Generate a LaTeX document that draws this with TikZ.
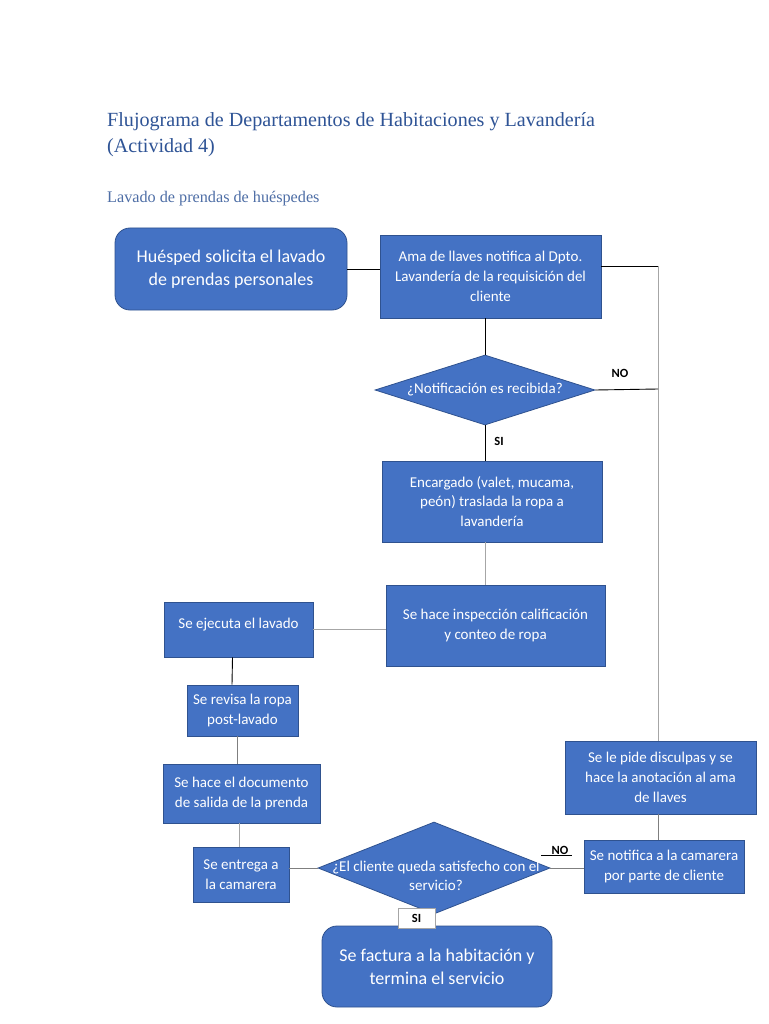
\documentclass[tikz,border=0pt]{standalone}
\usepackage{fontspec}
\setmainfont{Carlito}
\newfontfamily\titlefont{Liberation Serif}
\usetikzlibrary{shapes.geometric,calc}
\definecolor{boxfill}{HTML}{4472C4}
\definecolor{boxline}{HTML}{2F528F}
\definecolor{titleblue}{HTML}{2F5496}
\definecolor{lgray}{HTML}{A6A6A6}
\definecolor{mgray}{HTML}{7F7F7F}
\tikzset{
  box/.style={draw=boxline, fill=boxfill, text=white, align=center, inner sep=2pt, line width=0.8pt},
  rbox/.style={box, rounded corners=15pt},
  dia/.style={diamond, aspect=2.5, draw=boxline, fill=boxfill, text=white, align=center, inner sep=0pt, line width=0.8pt},
  conn/.style={draw=black, line width=0.9pt},
  gconn/.style={draw=lgray, line width=1pt},
  mconn/.style={draw=mgray, line width=1pt},
  lbl/.style={font=\fontsize{12.5}{14}\selectfont\bfseries, text=black, inner sep=1pt},
  f13/.style={font=\fontsize{15}{19.8}\selectfont},
  f16/.style={font=\fontsize{18}{23}\selectfont},
}
\begin{document}
\begin{tikzpicture}[x=1pt,y=-1pt]
\useasboundingbox (0,0) rectangle (768,1024);
\fill[white] (0,0) rectangle (768,1024);

% titles
\node[anchor=base west, inner sep=0pt, text=titleblue, font=\titlefont\fontsize{20.1}{26}\selectfont] (t1) at (107,127) {Flujograma de Departamentos de Habitaciones y Lavandería};
\node[anchor=base west, inner sep=0pt, text=titleblue, font=\titlefont\fontsize{20.1}{26}\selectfont] (t2) at (107,153) {(Actividad 4)};
\node[anchor=base west, inner sep=0pt, text=titleblue!85!white, font=\titlefont\fontsize{16.2}{20}\selectfont] (t3) at (107,203) {Lavado de prendas de huéspedes};

% nodes
\node[rbox, f16, minimum width=232pt, minimum height=82pt] (hue) at (231,269) {Huésped solicita el lavado\\de prendas personales};
\node[box, f13, minimum width=221pt, minimum height=83pt] (ama) at (490.5,276.5) {Ama de llaves notifica al Dpto.\\Lavandería de la requisición del\\cliente};
\node[dia, aspect=3.1, f13, minimum width=220pt, minimum height=70pt] (d1) at (485,390) {¿Notificación es recibida?};
\node[box, f13, minimum width=220pt, minimum height=81pt] (enc) at (492,501.5) {Encargado (valet, mucama,\\peón) traslada la ropa a\\lavandería};
\node[box, f13, minimum width=219pt, minimum height=81pt] (ins) at (495.5,625.5) {Se hace inspección calificación\\y conteo de ropa};
\node[box, f13, minimum width=149pt, minimum height=55pt, text depth=12pt] (eje) at (238.5,629.5) {Se ejecuta el lavado};
\node[box, f13, minimum width=111pt, minimum height=51pt] (rev) at (242.5,710.5) {Se revisa la ropa\\post-lavado};
\node[box, f13, minimum width=157pt, minimum height=59pt] (doc) at (241.5,793.5) {Se hace el documento\\de salida de la prenda};
\node[box, f13, minimum width=96pt, minimum height=55pt] (ent) at (241,874.5) {Se entrega a\\la camarera};
\node[dia, f13, minimum width=232pt, minimum height=92pt] (d2) at (434,868) {};
\node[text=white, align=center, font=\fontsize{15}{19}\selectfont, inner sep=0pt] (d2t) at (436,876) {¿El cliente queda satisfecho con el\\servicio?};
\node[rbox, f16, minimum width=230pt, minimum height=81pt] (fac) at (437,966.5) {Se factura a la habitación y\\termina el servicio};
\node[box, f13, minimum width=160pt, minimum height=53pt] (not) at (664,866.5) {Se notifica a la camarera\\por parte de cliente};
\node[box, f13, minimum width=191pt, minimum height=73pt] (dis) at (660.5,777.5) {Se le pide disculpas y se\\hace la anotación al ama\\de llaves};

% helper coordinates
\coordinate (r1) at (658,266);
\coordinate (r2) at (658,389);

% connectors
\draw[conn] (hue.east) -- (hue.east -| ama.west);
\draw[conn] (ama.east |- r1) -- (r1);
\draw[gconn] (r1) -- (dis.north -| r1);
\draw[conn] (d1.north |- ama.south) -- (d1.north);
\draw[conn] (d1.east) -- (r2);
\draw[conn] (d1.south) -- (d1.south |- enc.north);
\draw[gconn] (enc.south -| d1.south) -- (ins.north -| d1.south);
\draw[gconn] (ins.west |- eje.east) -- (eje.east);
\draw[conn] ($(eje.south)+(-6,0)$) -- ($(rev.north)+(-10.5,0)$);
\draw[mconn] ($(rev.south)+(-5.5,0)$) -- ($(doc.north)+(-4.5,0)$);
\draw[gconn] ($(doc.south)+(-2.5,0)$) -- ($(ent.north)+(-2,0)$);
\draw[mconn] (ent.east |- d2.west) -- (d2.west);
\draw[mconn] (d2.east) -- (not.west |- d2.east);
\draw[mconn] (not.north -| r1) -- (dis.south -| r1);
\draw[conn] (d2.south) -- (d2.south |- fac.north);

% labels
\node[lbl] (no1) at (620,373) {NO};
\node[lbl] (si1) at (499,441) {SI};
\node[lbl, fill=white, minimum width=37pt, minimum height=20pt, draw=lgray, line width=0.4pt] (si2) at (416.5,918) {SI};
\node[lbl] (no2) at (560,850) {NO};
\draw[line width=0.8pt] ($(no2.south west)+(-9,0)$) -- ($(no2.south east)+(2,0)$);
\end{tikzpicture}
\end{document}
